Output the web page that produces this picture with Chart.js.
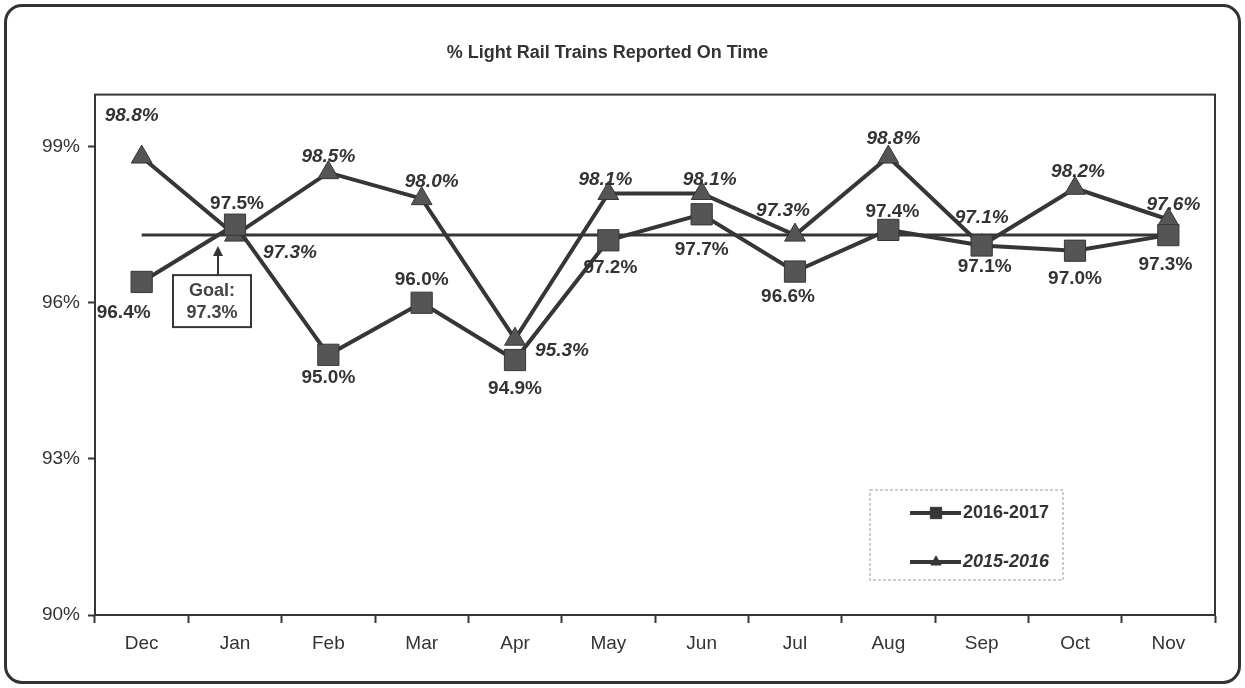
<!DOCTYPE html>
<html>
<head>
<meta charset="utf-8">
<script src="https://cdn.jsdelivr.net/npm/chart.js@4"></script>
<style>
  html, body { margin: 0; padding: 0; background: #fff; }
  #wrap { position: relative; width: 1245px; height: 688px; overflow: hidden; }
  #frame {
    position: absolute; left: 4px; top: 4px; width: 1231px; height: 674px;
    border: 3px solid #333; border-radius: 18px; pointer-events: none;
  }
  #chart { position: absolute; left: 0; top: 0; }
</style>
</head>
<body>
<div id="wrap">
  <canvas id="chart" width="1245" height="688"></canvas>
  <div id="frame"></div>
</div>
<script>
const months = ['Dec', 'Jan', 'Feb', 'Mar', 'Apr', 'May', 'Jun', 'Jul', 'Aug', 'Sep', 'Oct', 'Nov'];
const fy1617 = [96.4, 97.5, 95.0, 96.0, 94.9, 97.2, 97.7, 96.6, 97.4, 97.1, 97.0, 97.3];
const fy1516 = [98.8, 97.3, 98.5, 98.0, 95.3, 98.1, 98.1, 97.3, 98.8, 97.1, 98.2, 97.6];
const goal = 97.3;
const yTicks = [90, 93, 96, 99];

// where each value label sits relative to its point [dx, dy]
const offsets1617 = [[-18, 31], [2, -21], [0, 23], [0, -23], [0, 29], [2, 27], [0, 35], [-7, 25], [4, -18], [3, 21], [0, 28], [-3, 30]];
const offsets1516 = [[-10, -41], [55, 18], [0, -16], [10, -17], [47, 12], [-3, -14], [8, -14], [-12, -24], [5, -18], [0, -28], [3, -17], [5, -15]];

const ink = '#363636';
const fontFam = '"Liberation Sans", Arial, sans-serif';

const frameBox = {
  id: 'frameBox',
  beforeDatasetsDraw(chart) {
    const { ctx, chartArea: a } = chart;
    ctx.save();
    ctx.strokeStyle = ink;
    ctx.lineWidth = 2;
    ctx.strokeRect(a.left, a.top, a.right - a.left, a.bottom - a.top);
    ctx.restore();
  }
};

const valueLabels = {
  id: 'valueLabels',
  afterDatasetsDraw(chart) {
    const { ctx } = chart;
    ctx.save();
    ctx.fillStyle = '#333';
    ctx.textAlign = 'center';
    ctx.textBaseline = 'middle';
    [[0, offsets1617, 'bold'], [1, offsets1516, 'italic bold']].forEach(([di, offs, style]) => {
      ctx.font = style + ' 19px ' + fontFam;
      const meta = chart.getDatasetMeta(di);
      const vals = chart.data.datasets[di].data;
      meta.data.forEach((pt, i) => {
        ctx.fillText(vals[i].toFixed(1) + '%', pt.x + offs[i][0], pt.y + offs[i][1]);
      });
    });
    ctx.restore();
  }
};

const goalNote = {
  id: 'goalNote',
  afterDatasetsDraw(chart) {
    const { ctx, scales } = chart;
    const x = scales.x.getPixelForValue(1) - 17;
    const y = scales.y.getPixelForValue(goal);
    ctx.save();
    ctx.strokeStyle = ink;
    ctx.fillStyle = ink;
    ctx.lineWidth = 2;
    // arrow
    ctx.beginPath();
    ctx.moveTo(x, y + 40);
    ctx.lineTo(x, y + 18);
    ctx.stroke();
    ctx.beginPath();
    ctx.moveTo(x, y + 11);
    ctx.lineTo(x - 5, y + 21);
    ctx.lineTo(x + 5, y + 21);
    ctx.closePath();
    ctx.fill();
    // box
    const bx = x - 45, by = y + 40, bw = 78, bh = 52;
    ctx.fillStyle = '#fff';
    ctx.fillRect(bx, by, bw, bh);
    ctx.strokeRect(bx, by, bw, bh);
    ctx.fillStyle = '#444';
    ctx.font = 'bold 18px ' + fontFam;
    ctx.textAlign = 'center';
    ctx.textBaseline = 'middle';
    ctx.fillText('Goal:', bx + bw / 2, by + 16);
    ctx.fillText(goal.toFixed(1) + '%', bx + bw / 2, by + 38);
    ctx.restore();
  }
};

const legendBox = {
  id: 'legendBox',
  afterDraw(chart) {
    const { ctx, chartArea: a } = chart;
    const left = a.right - 345, top = a.bottom - 125, w = 193, h = 90;
    ctx.save();
    ctx.strokeStyle = '#bdbdbd';
    ctx.lineWidth = 1.5;
    ctx.setLineDash([3, 2]);
    ctx.strokeRect(left, top, w, h);
    ctx.setLineDash([]);
    [[0, 'bold', 23], [1, 'italic bold', 72]].forEach(([di, style, dy]) => {
      const ds = chart.data.datasets[di];
      const cy = top + dy;
      ctx.strokeStyle = ink;
      ctx.lineWidth = 4;
      ctx.beginPath();
      ctx.moveTo(left + 40, cy);
      ctx.lineTo(left + 91, cy);
      ctx.stroke();
      ctx.fillStyle = ink;
      ctx.lineWidth = 1;
      Chart.helpers.drawPoint(ctx, { pointStyle: ds.pointStyle, radius: di === 0 ? 8 : 6, borderWidth: 1 }, left + 66, cy);
      ctx.fillStyle = '#333';
      ctx.font = style + ' 18px ' + fontFam;
      ctx.textAlign = 'left';
      ctx.textBaseline = 'middle';
      ctx.fillText(ds.label, left + 93, cy);
    });
    ctx.restore();
  }
};

new Chart(document.getElementById('chart'), {
  type: 'line',
  data: {
    labels: months,
    datasets: [
      {
        label: '2016-2017',
        data: fy1617,
        borderColor: ink,
        borderWidth: 4,
        pointStyle: 'rect',
        pointRadius: 15,
        pointBackgroundColor: '#555',
        pointBorderColor: ink,
        pointBorderWidth: 1,
        order: 1
      },
      {
        label: '2015-2016',
        data: fy1516,
        borderColor: ink,
        borderWidth: 4,
        pointStyle: 'triangle',
        pointRadius: 12,
        pointBackgroundColor: '#555',
        pointBorderColor: ink,
        pointBorderWidth: 1,
        order: 2
      },
      {
        label: 'Goal',
        data: months.map(() => goal),
        borderColor: ink,
        borderWidth: 3,
        pointRadius: 0,
        order: 3
      }
    ]
  },
  options: {
    responsive: false,
    animation: false,
    layout: { padding: { left: 0, right: 30, top: 0, bottom: 0 } },
    plugins: {
      legend: { display: false },
      tooltip: { enabled: false },
      title: {
        display: true,
        text: '% Light Rail Trains Reported On Time',
        color: '#333',
        font: { family: fontFam, size: 18, weight: 'bold' },
        padding: { top: 42, bottom: 31 }
      }
    },
    scales: {
      x: {
        offset: true,
        grid: { display: true, drawOnChartArea: false, tickLength: 8, tickColor: ink, tickWidth: 2, offset: true },
        border: { color: ink, width: 2 },
        ticks: { color: '#333', font: { family: fontFam, size: 19 }, padding: 9, maxRotation: 0 },
        afterFit(scale) { scale.height = 73; }
      },
      y: {
        min: 90,
        max: 100,
        grid: { display: true, drawOnChartArea: false, tickLength: 7, tickColor: ink, tickWidth: 2 },
        border: { color: ink, width: 2 },
        ticks: { color: '#333', font: { family: fontFam, size: 19 }, padding: 8, callback: v => v + '%' },
        afterBuildTicks(axis) { axis.ticks = yTicks.map(v => ({ value: v })); },
        afterFit(scale) { scale.width = 95; }
      }
    }
  },
  plugins: [frameBox, valueLabels, goalNote, legendBox]
});
</script>
</body>
</html>
